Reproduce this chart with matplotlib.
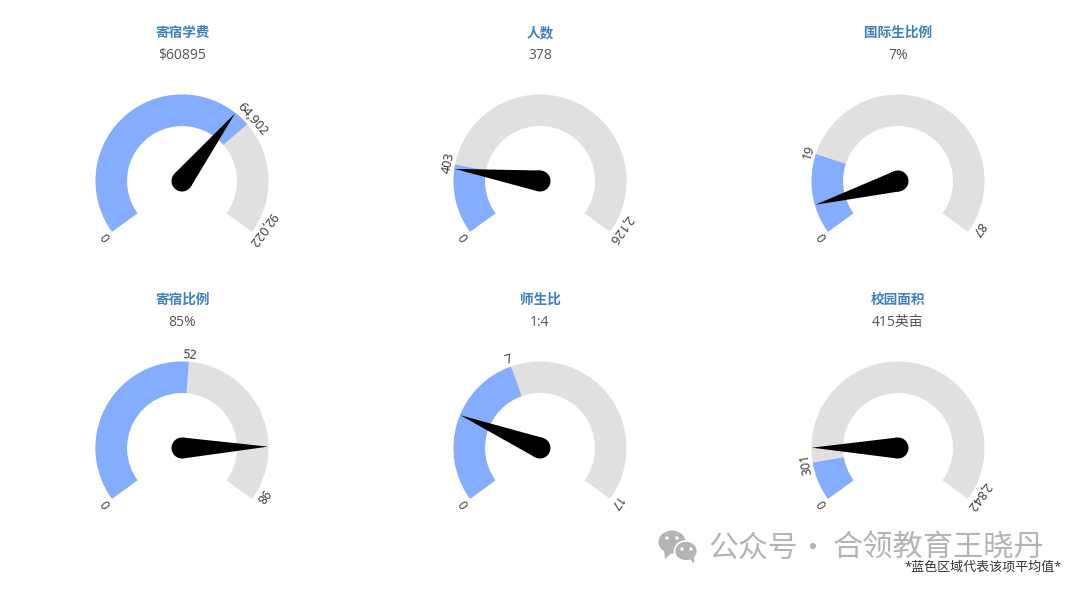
import numpy as np
import matplotlib
matplotlib.use('Agg')
import matplotlib.pyplot as plt
from matplotlib.patches import Wedge, Polygon, Circle, Ellipse

plt.rcParams['font.family'] = ['Open Sans', 'Noto Sans CJK SC', 'DejaVu Sans']

titles = ['寄宿学费', '人数', '国际生比例', '寄宿比例', '师生比', '校园面积']
value_labels = ['$60895', '378', '7%', '85%', '1:4', '415英亩']
values = [60895, 378, 7, 85, 4, 415]
# averages are shown rounded, the last digits are estimated from the arcs
averages = [64902, 403, 19, 51.6, 7.3, 301]
maximums = [92022, 2126, 87, 98, 17, 2842]
# the max labels sit a little above the arc end, except on 师生比
max_label_angles = [-31, -31, -31, -31, -36, -31]

centers_x = [182, 540, 898]
centers_y = [181, 448]
R_OUT = 86.5
R_IN = 55
START = 216
END = -36
SWEEP = 248  # value scale, fits the reference a bit better than the full 252


def angle_of(v, vmax):
    return START - v / vmax * SWEEP


def draw_needle(ax, cx, cy, ang):
    # y axis points down in pixels, so flip the sign of sin
    a = np.radians(ang)
    d = np.array([np.cos(a), -np.sin(a)])
    n = np.array([d[1], -d[0]])
    c = np.array([cx, cy])
    hub = 10.5
    length = 86
    tip = c + d * length
    # tangent points, so the cone runs smoothly into the hub
    b = np.arccos(hub / length)
    p1 = c + hub * (d * np.cos(b) + n * np.sin(b))
    p2 = c + hub * (d * np.cos(b) - n * np.sin(b))
    ax.add_patch(Polygon([p1, tip, p2], closed=True, fc='black', ec='none', zorder=5))
    ax.add_patch(Circle((cx, cy), hub, fc='black', ec='none', zorder=5))


def draw_label(ax, cx, cy, ang, v, rot_ang=None):
    a = np.radians(ang)
    r = R_OUT + 7
    if rot_ang is None:
        rot_ang = ang
    ax.text(cx + r * np.cos(a), cy - r * np.sin(a), f'{v:,.0f}', rotation=rot_ang - 90, rotation_mode='anchor',
            ha='center', va='center', fontsize=9, color='#333333', zorder=6)


fig = plt.figure(figsize=(10.8, 5.91), dpi=100)
ax = fig.add_axes([0, 0, 1, 1])
ax.set_xlim(0, 1080)
ax.set_ylim(591, 0)
ax.axis('off')

for i in range(6):
    cx = centers_x[i % 3]
    cy = centers_y[i // 3]
    avg_ang = angle_of(averages[i], maximums[i])
    val_ang = angle_of(values[i], maximums[i])

    # angles are negated because the y axis is inverted
    ax.add_patch(Wedge((cx, cy), R_OUT, -START, -END, width=R_OUT - R_IN, fc='#e0e0e0', ec='none'))
    ax.add_patch(Wedge((cx, cy), R_OUT, -START, -avg_ang, width=R_OUT - R_IN, fc='#85adff', ec='none'))
    draw_needle(ax, cx, cy, val_ang)

    draw_label(ax, cx, cy, START, 0)
    draw_label(ax, cx, cy, avg_ang, averages[i])
    draw_label(ax, cx, cy, max_label_angles[i], maximums[i], rot_ang=END)

    ax.text(cx, cy - 144, titles[i], ha='center', va='baseline', fontsize=9.8, fontweight='bold', color='#3f7fbf')
    ax.text(cx, cy - 122, value_labels[i], ha='center', va='baseline', fontsize=10, color='#555555')

# wechat mark
gray = '#b4b4b4'
ax.add_patch(Ellipse((672, 542), 27, 23, fc=gray, ec='none'))
ax.add_patch(Polygon([(664, 550), (665, 559), (673, 552)], fc=gray, ec='none'))
ax.add_patch(Ellipse((686, 551), 23, 20, fc=gray, ec='white', lw=1.2))
ax.add_patch(Polygon([(690, 559), (694, 564), (694, 556)], fc=gray, ec='none'))
for ex, ey in [(667, 538), (677, 538), (682, 549), (691, 549)]:
    ax.add_patch(Circle((ex, ey), 1.7, fc='white', ec='none'))

wm_family = ['Noto Sans CJK SC', 'DejaVu Sans']
ax.text(708, 548.5, '公众号', ha='left', va='center', fontsize=21.5, color=gray, family=wm_family)
ax.text(812, 548.5, '·', ha='center', va='center', fontsize=21.5, color=gray, family=wm_family)
ax.text(833, 548.5, '合领教育王晓丹', ha='left', va='center', fontsize=21.8, color=gray, family=wm_family)
ax.text(1062, 567, '*蓝色区域代表该项平均值*', ha='right', va='center', fontsize=9.4, color='#333333')

fig.savefig('out.png', dpi=100)
